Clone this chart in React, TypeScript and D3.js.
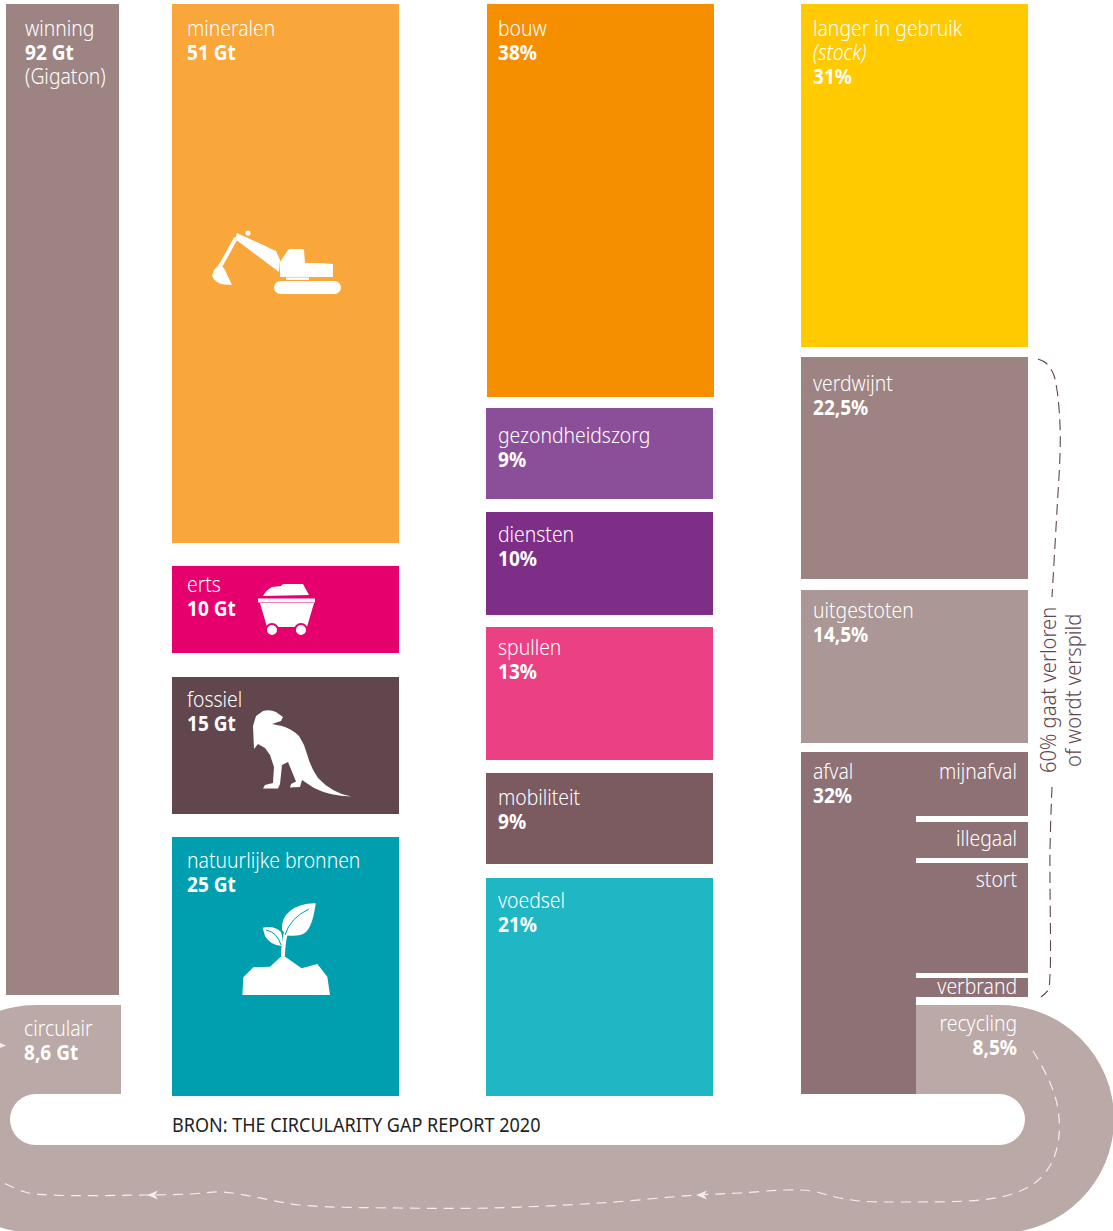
import React from "react";
import * as d3 from "d3";

// ---------- data ----------
const totalLabel = "winning";
const totalValue = 92;
const circularLabel = "circulair";
const circularValue = 8.6;

const extractionCategories = ["mineralen", "erts", "fossiel", "natuurlijke bronnen"];
const extractionValues = [51, 10, 15, 25];

const useCategories = ["bouw", "gezondheidszorg", "diensten", "spullen", "mobiliteit", "voedsel"];
const useValues = [38, 9, 10, 13, 9, 21];

const fateCategories = ["langer in gebruik", "verdwijnt", "uitgestoten", "afval"];
const fateValues = [31, 22.5, 14.5, 32];

const wasteCategories = ["mijnafval", "illegaal", "stort", "verbrand", "recycling"];
const wasteValues = [6, 3.4, 10.3, 1.8, 8.5];

const sourceText = "BRON: THE CIRCULARITY GAP REPORT 2020";
const bracketLines = ["60% gaat verloren", "of wordt verspild"];

// path of the loop arrow
const loopRoute: [number, number][] = [
  [1033, 1051], [1047, 1076], [1057, 1104], [1059, 1135], [1052, 1162], [1036, 1182], [1012, 1194], [980, 1200],
  [905, 1202], [860, 1201], [835, 1197], [812, 1191], [785, 1190], [740, 1193], [697, 1195], [600, 1203],
  [490, 1208], [400, 1208], [300, 1205], [250, 1196], [222, 1192], [190, 1194], [148, 1195], [50, 1195],
  [25, 1192], [0, 1181],
];
const bracketTop: [number, number][] = [
  [1038, 359], [1046, 363], [1053, 373], [1057, 390], [1060, 425], [1060, 455], [1057, 510], [1052, 597],
];
const bracketBottom: [number, number][] = [
  [1052, 787], [1050, 850], [1050, 975], [1048, 990], [1041, 997],
];

// ---------- palette ----------
const extractionColors = ["#F9A63A", "#E6006E", "#62464E", "#009FAF"];
const useColors = ["#F58F00", "#8B4F99", "#7E2E87", "#EB4083", "#7B5B60", "#1FB7C4"];
const fateColors = ["#FFCA00", "#9D8483", "#AB9795", "#8E7175"];
const totalColor = "#9D8483";
const loopColor = "#BAA9A7";
const bracketColor = "#5F454C";

// ---------- layout ----------
const W = 1113;
const H = 1231;
const FONT = "'Noto Sans', sans-serif";
const FS = 21.5;
const LH = 24;
const NARROW = 0.9;

const columnX = d3.scaleOrdinal<string, number>()
  .domain(["total", "extraction", "use", "fate"])
  .range([6, 172, 486, 801]);
const columnW = d3.scaleOrdinal<string, number>()
  .domain(["total", "extraction", "use", "fate"])
  .range([113, 227, 227, 227]);

type Seg = { y0: number; y1: number };
// piecewise value -> pixel scale, because the drawn blocks are only roughly to scale
function stack(values: number[], stops: number[], gaps: number[]): Seg[] {
  const cum = Array.from(d3.cumsum(values));
  const y = d3.scaleLinear().domain([0, ...cum]).range(stops);
  let prev = 0;
  return values.map((_, i) => {
    const a = prev;
    prev = cum[i];
    return {
      y0: y(a) + (i > 0 ? gaps[i - 1] / 2 : 0),
      y1: y(cum[i]) - (i < values.length - 1 ? gaps[i] / 2 : 0),
    };
  });
}

const totalY = d3.scaleLinear().domain([0, totalValue]).range([4, 995]);
const extractionSegs = stack(extractionValues, [4, 554.5, 665, 825.5, 1096], [23, 24, 23]);
const useSegs = stack(useValues, [4, 402.5, 505.5, 621, 766.5, 871, 1096], [11, 13, 12, 13, 14]);
const fateSegs = stack(fateValues, [4, 352, 584.5, 747.5, 1094], [10, 11, 9]);
const wasteSegs = stack(wasteValues, [752, 819, 860.5, 975.5, 1001, 1094], [6, 5, 5, 8]);

const extractionDrop = [32, 26, 30, 31];
const useDrop = [32, 35, 30, 28, 32, 30];
const fateDrop = [32, 34, 28, 27];
const wasteDrop = [27, 24, 24, 16, 26];

const nl = (v: number) => String(v).replace(".", ",");

const routeLine = d3.line().curve(d3.curveCatmullRom.alpha(0.5));

function loopPath() {
  const p = d3.path();
  const cy = 1119, r = 114;
  p.moveTo(columnX("total") + 115, cy - r);
  p.lineTo(36, cy - r);
  p.arc(36, cy, r, -Math.PI / 2, Math.PI / 2, true);
  p.lineTo(1000, cy + r);
  p.arc(1000, cy, r, Math.PI / 2, -Math.PI / 2, true);
  p.lineTo(916, cy - r);
  p.lineTo(916, 1094);
  p.lineTo(121, 1094);
  p.closePath();
  return p.toString();
}

function Line({ x, y, t, anchor = "start", weight = 300, italic = false, size = FS, fill = "#fff", sx = NARROW }: any) {
  return (
    <text transform={`translate(${x},${y}) scale(${sx},1)`} textAnchor={anchor}
      style={{ fontFamily: FONT, fontSize: size, fontWeight: weight, fontStyle: italic ? "italic" : "normal", fill }}>
      {t}
    </text>
  );
}

function Label({ x, y, name, value, anchor = "start", italic, extra }: any) {
  let line = y;
  return (
    <g>
      <Line x={x} y={line} t={name} anchor={anchor} />
      {italic ? <Line x={x} y={(line += LH)} t={italic} anchor={anchor} italic /> : null}
      {value ? <Line x={x} y={(line += LH)} t={value} anchor={anchor} weight={700} size={20.5} sx={0.93} /> : null}
      {extra ? <Line x={x} y={(line += LH)} t={extra} anchor={anchor} /> : null}
    </g>
  );
}

const polygon = (pts: number[][], ox: number, oy: number, k = 1 / 3) =>
  "M" + pts.map(([a, b]) => `${ox + a * k},${oy + b * k}`).join("L") + "Z";

function Excavator() {
  return (
    <g fill="#fff">
      <rect x={274} y={281} width={67} height={13} rx={6.5} />
      <rect x={286} y={277.5} width={23} height={2.5} />
      <path d="M280,262L288,250Q289,249 290,249L303,249Q304,249 304,250L305,263L320,263L333,264L333,277L280,277Z" />
      <path d="M237,233L276,251L280,260L279,272L235,239Z" />
      <circle cx={248} cy={233} r={2.6} />
      <path d="M236,238L221,265" stroke="#fff" strokeWidth={4} />
      <path d="M220,263L225,270L232,285L224,284.5Q215,283 212,276L214,270Z" />
    </g>
  );
}

function Cart() {
  return (
    <g fill="#fff">
      <path d="M263,596Q266,590 272,587L281,586L283,584L303,584L309,595Z" />
      <rect x={258} y={598.5} width={57} height={4} />
      <path d="M260,603L314,603L307,627L267,627Z" />
      <circle cx={272} cy={630} r={6} stroke={extractionColors[1]} strokeWidth={2} />
      <circle cx={301} cy={630} r={6} stroke={extractionColors[1]} strokeWidth={2} />
    </g>
  );
}

const dinoPath =
  "M263,711Q270,709 276,712L283,717L281,721L272,724L282,726Q292,729 299,736L304,745L308,757Q311,768 318,778Q332,793 351,796.5" +
  "Q330,796 314,788L302,780L300,787L290,787.5L291,784L296,781.5L288,762L282,765L280,784L278,788.5L263,788.5L265,785L273,783L274,767L270,755" +
  "L265,748L258,744L254,749L253,726L256,716Z";
function Dino() {
  return <path d={dinoPath} fill="#fff" />;
}

function Plant() {
  const ox = 170, oy = 840;
  const mound = [[217, 465], [220, 412], [250, 382], [300, 380], [338, 345], [395, 385], [442, 372], [472, 410], [480, 465]];
  return (
    <g fill="#fff">
      <path d={polygon(mound, ox, oy)} />
      <path d="M315.7,903.3Q300,903 290,911Q281,918 282,930L287,935.5Q300,937 306,932Q313,925 315.7,903.3Z" />
      <path d="M262.7,927.7Q274,925 281,932Q283,937 281.7,946Q270,945 265,936Z" />
      <path d={`M${ox + 113},${oy + 116}Q${ox + 113},${oy + 105} ${ox + 116},${oy + 92}`} stroke="#fff" strokeWidth={4} fill="none" />
      <path d={`M${ox + 115},${oy + 95}Q${ox + 120},${oy + 78} ${ox + 139},${oy + 69}`} stroke={extractionColors[3]} strokeWidth={1} fill="none" />
      <path d={`M${ox + 96},${oy + 90}Q${ox + 107},${oy + 92} ${ox + 111},${oy + 105}`} stroke={extractionColors[3]} strokeWidth={1} fill="none" />
    </g>
  );
}

function Arrow({ x, y, dir }: { x: number; y: number; dir: number }) {
  const p = d3.path();
  p.moveTo(x, y);
  p.lineTo(x + dir * 11, y - 4.5);
  p.lineTo(x + dir * 8, y);
  p.lineTo(x + dir * 11, y + 4.5);
  p.closePath();
  return <path d={p.toString()} fill="#F3EEED" />;
}

export default function App() {
  const ex = columnX("extraction"), ew = columnW("extraction");
  const ux = columnX("use"), uw = columnW("use");
  const fx = columnX("fate"), fw = columnW("fate");
  const tx = columnX("total"), tw = columnW("total");
  const splitX = 916;

  return (
    <svg width={W} height={H} viewBox={`0 0 ${W} ${H}`} style={{ position: "absolute", left: 0, top: 0, display: "block", background: "#fff" }}>
      {/* recycling loop */}
      <path d={loopPath()} fill={loopColor} />
      <rect x={10} y={1094} width={1015} height={51} rx={25.5} fill="#fff" />
      <Line x={172} y={1132} t={sourceText} size={20.5} weight={400} fill="#222" sx={0.88} />

      {/* total */}
      <rect x={tx} y={totalY(0)} width={tw} height={totalY(totalValue) - totalY(0)} fill={totalColor} />
      <Label x={25} y={36} name={totalLabel} value={`${totalValue} Gt`} extra="(Gigaton)" />
      <Label x={24} y={1036} name={circularLabel} value={`${nl(circularValue)} Gt`} />

      {/* extraction */}
      {extractionCategories.map((c, i) => (
        <g key={c}>
          <rect x={ex} y={extractionSegs[i].y0} width={ew} height={extractionSegs[i].y1 - extractionSegs[i].y0} fill={extractionColors[i]} />
          <Label x={ex + 15} y={extractionSegs[i].y0 + extractionDrop[i]} name={c} value={`${extractionValues[i]} Gt`} />
        </g>
      ))}
      <Excavator />
      <Cart />
      <Dino />
      <Plant />

      {/* use */}
      {useCategories.map((c, i) => (
        <g key={c}>
          <rect x={ux + (i === 0 ? 1 : 0)} y={useSegs[i].y0} width={uw} height={useSegs[i].y1 - useSegs[i].y0} fill={useColors[i]} />
          <Label x={ux + 12} y={useSegs[i].y0 + useDrop[i]} name={c} value={`${useValues[i]}%`} />
        </g>
      ))}

      {/* fate */}
      {fateCategories.map((c, i) => {
        const last = i === fateCategories.length - 1;
        return (
          <g key={c}>
            <rect x={fx} y={fateSegs[i].y0} width={last ? splitX - fx : fw} height={fateSegs[i].y1 - fateSegs[i].y0} fill={fateColors[i]} />
            {i === 0
              ? <Label x={fx + 12} y={fateSegs[i].y0 + fateDrop[i]} name={c} italic="(stock)" value={`${nl(fateValues[i])}%`} />
              : <Label x={fx + 12} y={fateSegs[i].y0 + fateDrop[i]} name={c} value={`${nl(fateValues[i])}%`} />}
          </g>
        );
      })}

      {/* waste breakdown */}
      {wasteCategories.map((c, i) => {
        const s = wasteSegs[i];
        const recycling = c === "recycling";
        return (
          <g key={c}>
            {!recycling && <rect x={splitX} y={s.y0} width={fx + fw - splitX} height={s.y1 - s.y0} fill={fateColors[3]} />}
            <Label x={1017} y={s.y0 + wasteDrop[i]} anchor="end" name={c} value={recycling ? `${nl(wasteValues[i])}%` : undefined} />
          </g>
        );
      })}

      {/* loop arrow */}
      <path d={routeLine(loopRoute) as string} fill="none" stroke="#F3EEED" strokeWidth={1.2} strokeDasharray="10 7" />
      <Arrow x={147} y={1195} dir={1} />
      <Arrow x={696} y={1195} dir={1} />
      <Arrow x={6} y={1045.5} dir={-1} />

      {/* bracket */}
      <path d={routeLine(bracketTop) as string} fill="none" stroke={bracketColor} strokeWidth={1.1} strokeDasharray="11 6" />
      <path d={routeLine(bracketBottom) as string} fill="none" stroke={bracketColor} strokeWidth={1.1} strokeDasharray="11 6" />
      {bracketLines.map((t, i) => (
        <g key={t} transform={`translate(${1056 + i * 25},${i === 0 ? 773 : 767}) rotate(-90)`}>
          <Line x={0} y={0} t={t} size={21} fill={bracketColor} sx={0.96} />
        </g>
      ))}
    </svg>
  );
}
